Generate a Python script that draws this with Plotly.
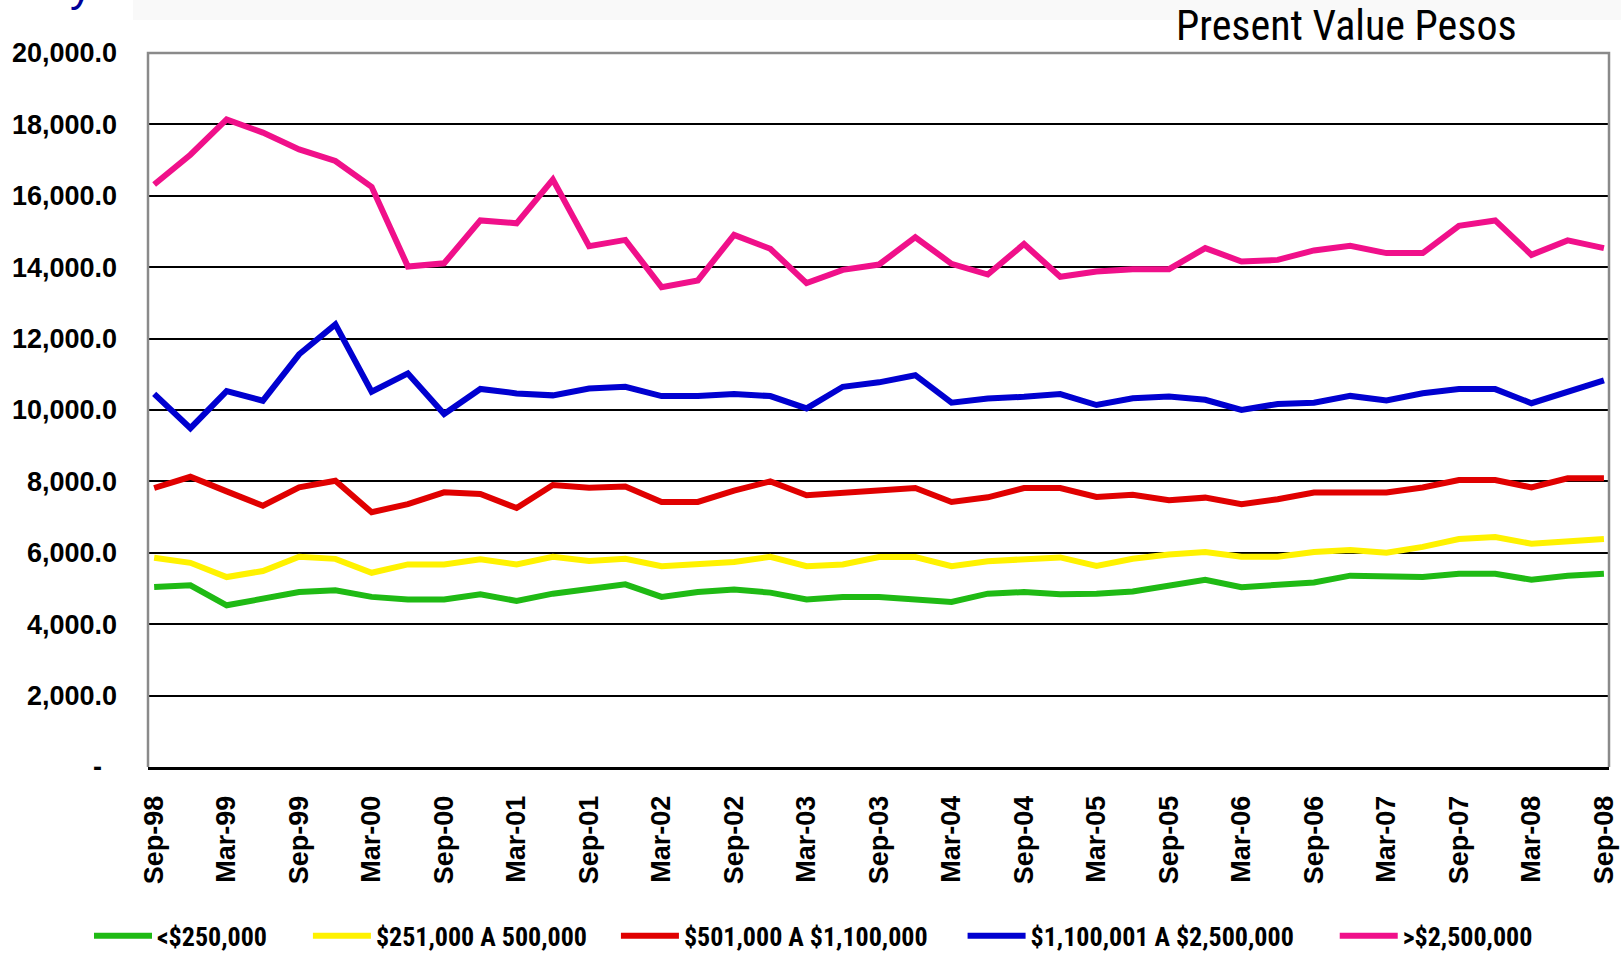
import plotly.graph_objects as go

quarters = ["Sep-98", "Dec-98", "Mar-99", "Jun-99", "Sep-99", "Dec-99", "Mar-00", "Jun-00",
            "Sep-00", "Dec-00", "Mar-01", "Jun-01", "Sep-01", "Dec-01", "Mar-02", "Jun-02",
            "Sep-02", "Dec-02", "Mar-03", "Jun-03", "Sep-03", "Dec-03", "Mar-04", "Jun-04",
            "Sep-04", "Dec-04", "Mar-05", "Jun-05", "Sep-05", "Dec-05", "Mar-06", "Jun-06",
            "Sep-06", "Dec-06", "Mar-07", "Jun-07", "Sep-07", "Dec-07", "Mar-08", "Jun-08",
            "Sep-08"]

series_names = ["<$250,000", "$251,000 A 500,000", "$501,000 A $1,100,000",
                "$1,100,001 A $2,500,000", ">$2,500,000"]

under_250k = [5040, 5090, 4530, 4715, 4900, 4950, 4765, 4690, 4690, 4840, 4650, 4855, 4980,
              5115, 4765, 4900, 4970, 4885, 4690, 4765, 4765, 4690, 4625, 4855, 4900, 4840,
              4850, 4915, 5100, 5245, 5035, 5100, 5170, 5360, 5360, 5320, 5415, 5415, 5245,
              5360, 5415]
from_251k_to_500k = [5860, 5720, 5320, 5490, 5890, 5830, 5440, 5675, 5675, 5815, 5675, 5890, 5770,
                     5835, 5625, 5675, 5740, 5890, 5625, 5675, 5880, 5880, 5625, 5765, 5815, 5870,
                     5635, 5835, 5955, 6020, 5890, 5890, 6020, 6075, 6000, 6165, 6385, 6440, 6255,
                     6320, 6385]
from_501k_to_1100k = [7815, 8130, 7720, 7320, 7835, 8020, 7135, 7365, 7695, 7645, 7255, 7900, 7825,
                      7860, 7425, 7425, 7740, 8000, 7610, 7675, 7740, 7815, 7425, 7555, 7815, 7815,
                      7565, 7625, 7470, 7545, 7360, 7500, 7690, 7690, 7690, 7830, 8040, 8040, 7830,
                      8085, 8085]
from_1100k_to_2500k = [10450, 9490, 10530, 10260, 11560, 12400, 10510, 11025, 9890, 10590, 10465,
                       10410, 10600, 10650, 10390, 10390, 10445, 10390, 10045, 10650, 10775, 10975,
                       10205, 10325, 10370, 10445, 10140, 10330, 10375, 10285, 10000, 10170, 10205,
                       10395, 10265, 10470, 10585, 10585, 10190, 10520, 10830]
over_2500k = [16315, 17150, 18140, 17770, 17300, 16975, 16250, 14020, 14110, 15310, 15230, 16455,
              14590, 14765, 13440, 13630, 14905, 14515, 13555, 13925, 14075, 14840, 14095, 13795,
              14650, 13730, 13880, 13945, 13945, 14535, 14160, 14205, 14470, 14600, 14395, 14395,
              15160, 15310, 14345, 14750, 14535]

series_values = [under_250k, from_251k_to_500k, from_501k_to_1100k, from_1100k_to_2500k, over_2500k]
series_colors = ["#1FBA14", "#FFF200", "#E00000", "#0000D0", "#F0108A"]
# trailing non-breaking spaces only widen the gap between legend entries
legend_padding = [6, 4, 5, 6, 0]

y_tick_vals = [0, 2000, 4000, 6000, 8000, 10000, 12000, 14000, 16000, 18000, 20000]
y_tick_text = ["-\u00a0\u00a0", "2,000.0", "4,000.0", "6,000.0", "8,000.0", "10,000.0", "12,000.0",
               "14,000.0", "16,000.0", "18,000.0", "20,000.0"]
x_tick_vals = quarters[::2]

chart_title = "Present Value Pesos"

NARROW = "Liberation Sans Narrow, Arial Narrow, Roboto Condensed, sans-serif"
YFONT = dict(family="Liberation Sans, Arial, sans-serif", size=27, color="black", weight="bold")
XFONT = dict(family="Liberation Sans, Arial, sans-serif", size=27, color="black", weight="bold")

fig = go.Figure()
for name, vals, color, pad in zip(series_names, series_values, series_colors, legend_padding):
    fig.add_trace(go.Scatter(x=quarters, y=vals, mode="lines", name=name + "\u00a0" * pad,
                             line=dict(color=color, width=6)))

fig.update_layout(
    width=1621, height=954,
    margin=dict(l=148, r=12, t=53, b=187, autoexpand=False),
    paper_bgcolor="white", plot_bgcolor="white",
    showlegend=True,
    legend=dict(orientation="h", x=0.0549, xanchor="left", xref="container",
                y=0.019, yanchor="middle", yref="container",
                font=dict(family=NARROW, size=26, color="black", weight="bold"),
                itemwidth=58, bgcolor="rgba(0,0,0,0)"),
    xaxis=dict(type="category", range=[-0.17, 40.14], tickmode="array", tickvals=x_tick_vals,
               ticktext=x_tick_vals, tickangle=-90, tickfont=XFONT, showgrid=False,
               showline=True, linecolor="black", linewidth=3, ticks="", ticklabelstandoff=15,
               zeroline=False, automargin=False),
    yaxis=dict(range=[0, 20000], tickmode="array", tickvals=y_tick_vals, ticktext=y_tick_text,
               tickfont=YFONT, showgrid=True, gridcolor="black", gridwidth=2, zeroline=False,
               showline=False, ticks="", ticklabelstandoff=30, automargin=False),
    shapes=[
        dict(type="rect", xref="paper", yref="paper", x0=-0.0103, x1=1.01, y0=1.0462, y1=1.08,
             fillcolor="#f9f9f9", line=dict(width=0), layer="below"),
        dict(type="path", xref="paper", yref="paper", path="M 0,0 L 0,1 L 1,1 L 1,0",
             line=dict(color="#8a8a8a", width=2.5), layer="above"),
    ],
    annotations=[
        dict(text=chart_title, xref="paper", yref="paper", x=0.820, y=1.038, xanchor="center",
             yanchor="middle", showarrow=False,
             font=dict(family=NARROW, size=42, color="black")),
        dict(text="y", xref="paper", yref="paper", x=-0.046, y=1.058, xanchor="center",
             yanchor="bottom", showarrow=False,
             font=dict(family="Liberation Sans, Arial, sans-serif", size=44, color="#000099")),
    ],
)

fig.write_html("out.html", include_plotlyjs=True, config={"displayModeBar": False},
               post_script="document.body.style.margin='0';document.body.style.overflow='hidden';")
